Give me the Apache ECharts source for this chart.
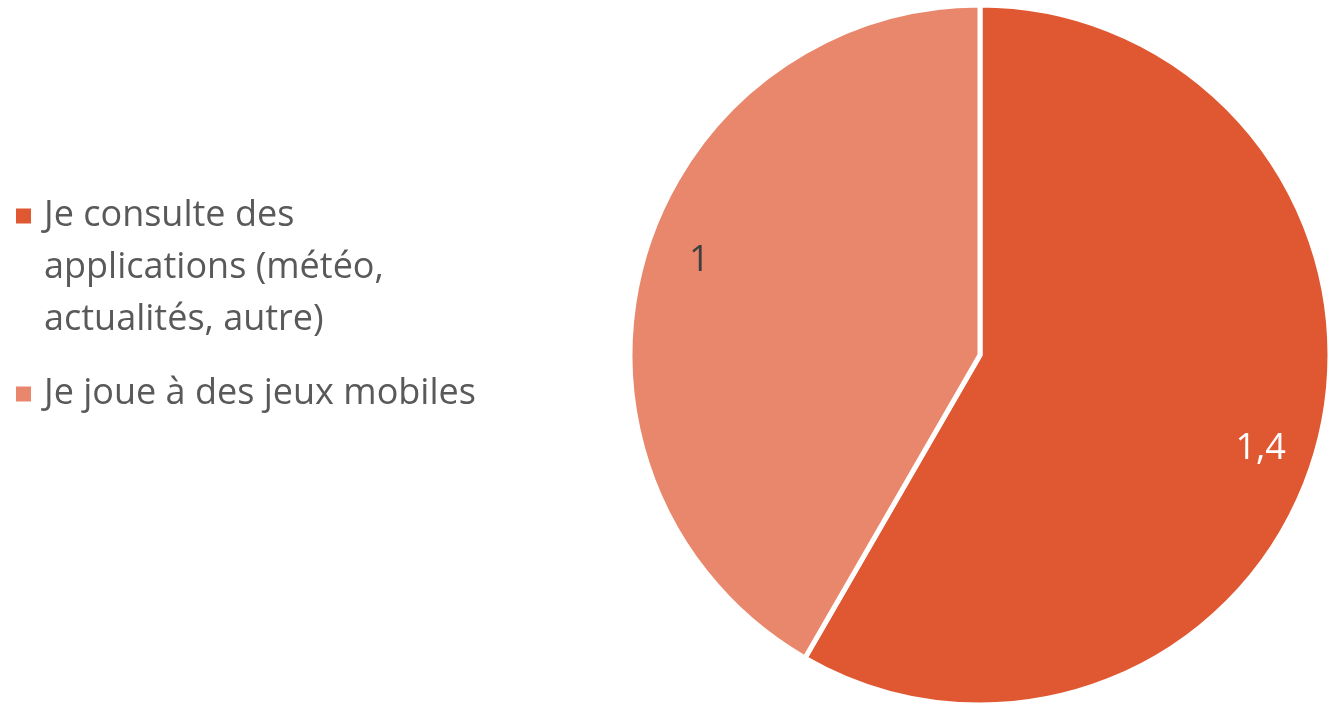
<!DOCTYPE html>
<html>
<head>
<meta charset="utf-8">
<script src="https://cdn.jsdelivr.net/npm/echarts@6/dist/echarts.min.js"></script>
<style>
  html, body { margin: 0; padding: 0; background: #ffffff; }
  #chart { width: 1330px; height: 706px; }
</style>
</head>
<body>
<div id="chart"></div>
<script>
// Usage categories and their values
const categories = [
  'Je consulte des\napplications (météo,\nactualités, autre)',
  'Je joue à des jeux mobiles'
];
const values = [1.4, 1];
const colors = ['#E05831', '#E9876C'];
const labelColors = ['#ffffff', '#404040'];

const FONT = '"Open Sans", "Noto Sans", sans-serif';
const fmt = v => String(v).replace('.', ',');

const pieData = categories.map((name, i) => ({
  name: name,
  value: values[i],
  itemStyle: { color: colors[i] }
}));

const labelData = categories.map((name, i) => ({
  name: name,
  value: values[i],
  label: { color: labelColors[i] }
}));

// Legend text: a multi-line entry gets leading blank lines so that its
// first line sits level with the colour square.
const legendText = name => {
  const extra = name.split('\n').length - 1;
  return '\n'.repeat(extra) + name;
};

const chart = echarts.init(document.getElementById('chart'), null, { renderer: 'canvas' });
chart.setOption({
  animation: false,
  backgroundColor: '#ffffff',
  legend: {
    orient: 'vertical',
    left: 16,
    top: 86,
    padding: 0,
    itemWidth: 15,
    itemHeight: 15,
    itemGap: 22,
    icon: 'rect',
    selectedMode: false,
    itemStyle: { borderWidth: 0 },
    formatter: legendText,
    textStyle: {
      fontFamily: FONT,
      fontSize: 36,
      color: '#595959',
      lineHeight: 52,
      padding: [0, 0, 0, 8]
    },
    data: categories
  },
  series: [
    {
      type: 'pie',
      center: [980, 355],
      radius: [0, 350],
      startAngle: 90,
      clockwise: true,
      silent: true,
      label: { show: false },
      labelLine: { show: false },
      itemStyle: { borderColor: '#ffffff', borderWidth: 5 },
      data: pieData
    },
    {
      // transparent ring carrying the value labels
      type: 'pie',
      center: [980, 355],
      radius: [236, 350],
      startAngle: 86.5,
      clockwise: true,
      silent: true,
      legendHoverLink: false,
      itemStyle: { color: 'rgba(0,0,0,0)', borderWidth: 0 },
      label: {
        show: true,
        position: 'inside',
        fontFamily: FONT,
        fontSize: 36,
        formatter: p => fmt(p.value)
      },
      labelLine: { show: false },
      data: labelData
    }
  ]
});
</script>
</body>
</html>
